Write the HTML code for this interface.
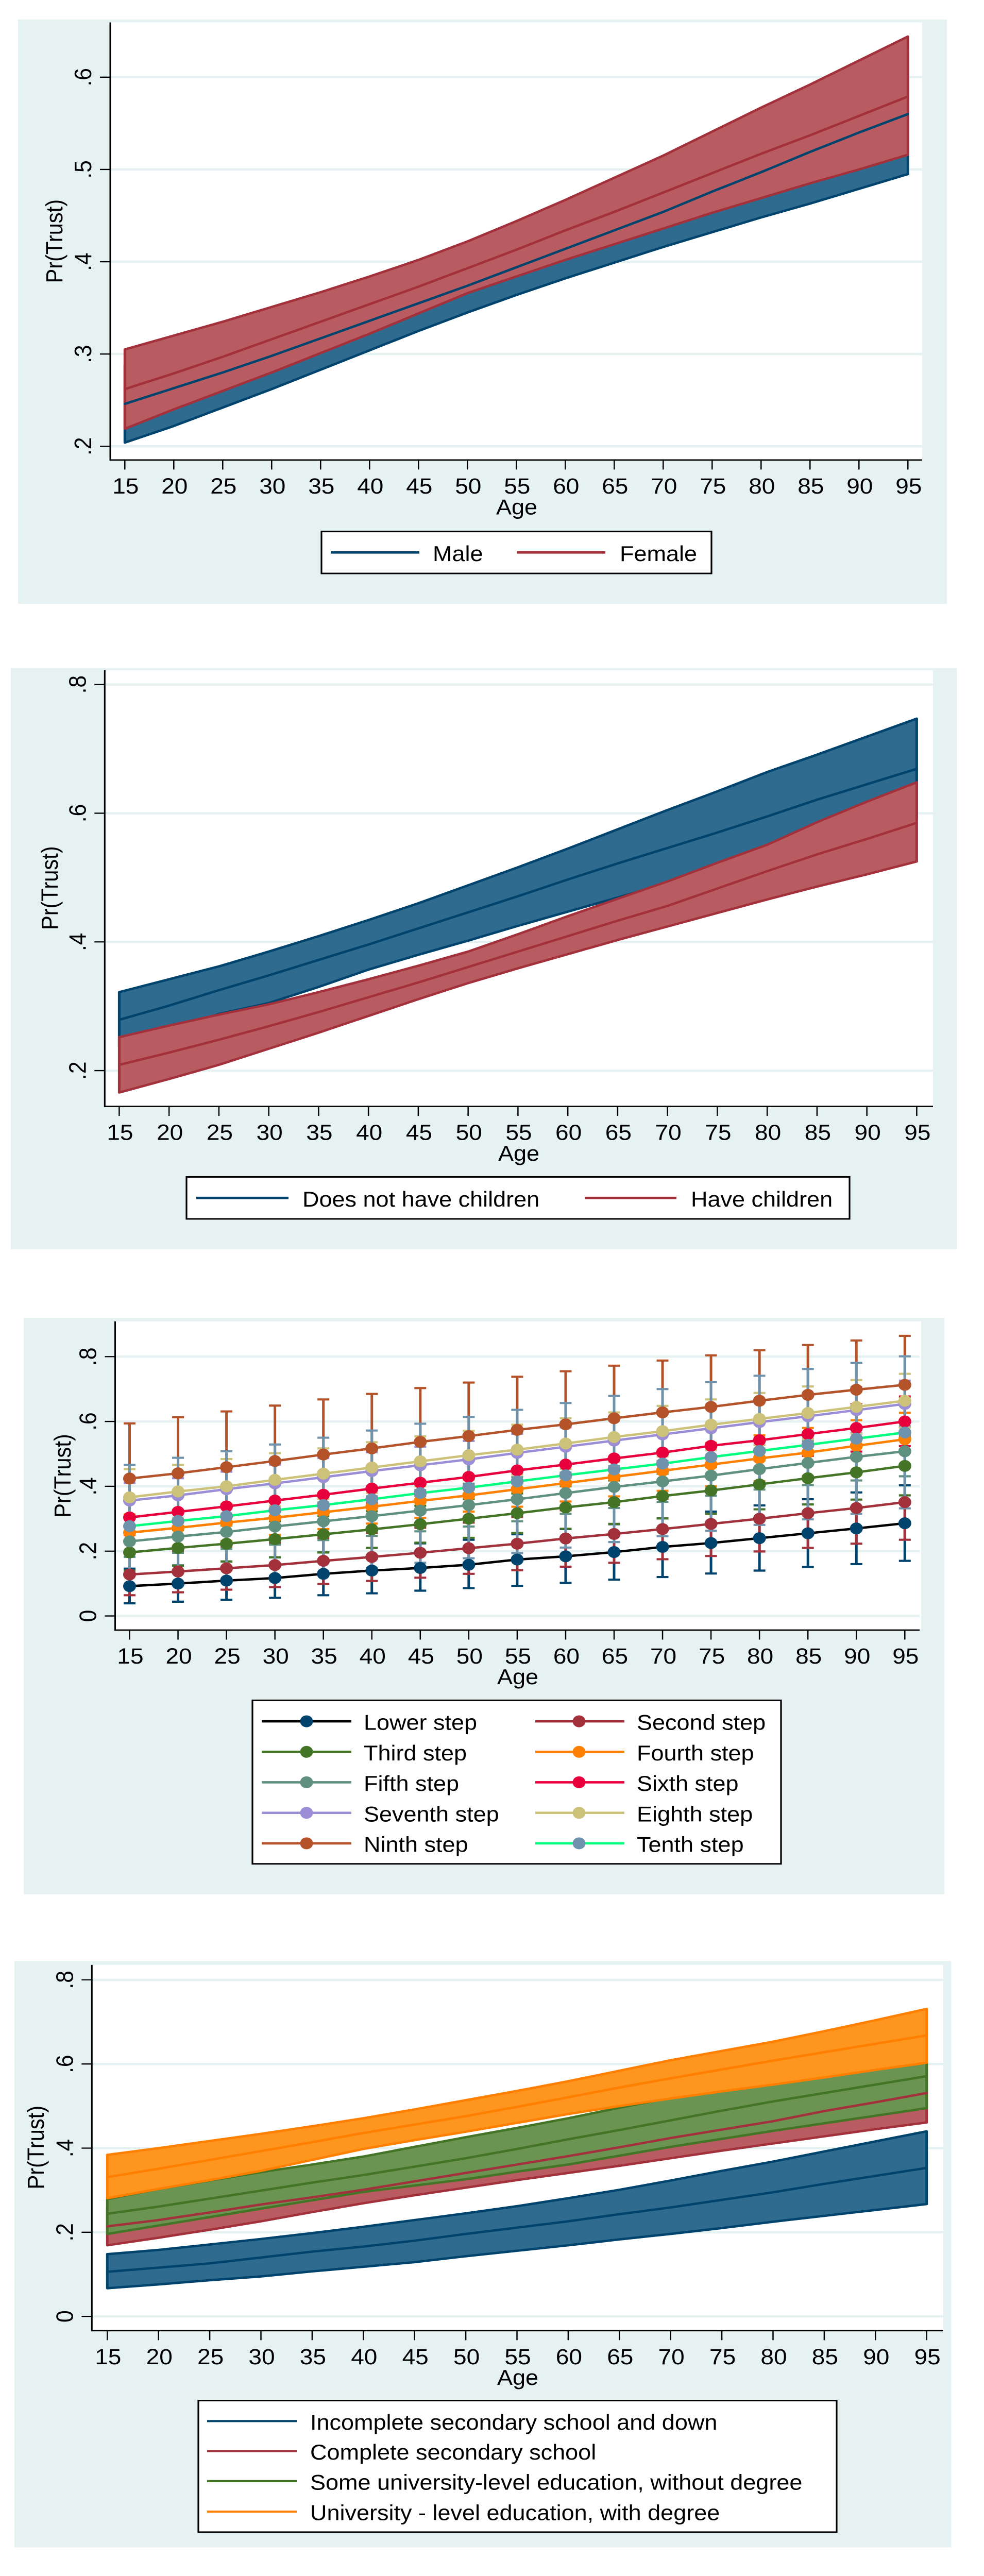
<!DOCTYPE html>
<html lang="en">
<head>
<meta charset="utf-8">
<title>Pr(Trust) by Age</title>
<style>
html,body{margin:0;padding:0;background:#fff;width:1910px;height:5000px;overflow:hidden;}
svg{display:block;overflow:hidden;}
text{font-family:"Liberation Sans",Arial,sans-serif;fill:#000;}
.bg{fill:#e6f2f2;}
.tick{font-size:46px;}
.title{font-size:45px;}
.leg{font-size:45px;}
.box{fill:#fff;stroke:#000;stroke-width:3.2;}
</style>
</head>
<body>
<svg id="figure" xmlns="http://www.w3.org/2000/svg" width="1910" height="5000" viewBox="0 0 1910 5404" preserveAspectRatio="none">
  <rect width="1910" height="5404" fill="#fff"/>

  <!-- Panel 1 -->
  <g>
    <rect class="bg" x="35" y="41" width="1803" height="1226"/>
    <rect fill="#fff" x="214" y="47" width="1576" height="918"/>
    <g id="marks1"></g>
    <text class="title" transform="translate(121,506) rotate(-90)" text-anchor="middle">Pr(Trust)</text>
    <text class="title" x="1003" y="1079" text-anchor="middle">Age</text>
    <g>
      <rect class="box" x="624" y="1115" width="757" height="88"/>
      <g>
        <line x1="642" x2="814" y1="1159" y2="1159" stroke="#00446e" stroke-width="5"/>
        <text class="leg" x="840" y="1177">Male</text>
      </g>
      <g>
        <line x1="1003" x2="1175" y1="1159" y2="1159" stroke="#a3313c" stroke-width="5"/>
        <text class="leg" x="1203" y="1177">Female</text>
      </g>
    </g>
  </g>

  <!-- Panel 2 -->
  <g>
    <rect class="bg" x="21" y="1401" width="1836" height="1220"/>
    <rect fill="#fff" x="203" y="1406" width="1608" height="915"/>
    <g id="marks2"></g>
    <text class="title" transform="translate(112,1863) rotate(-90)" text-anchor="middle">Pr(Trust)</text>
    <text class="title" x="1007" y="2435" text-anchor="middle">Age</text>
    <g>
      <rect class="box" x="362" y="2469" width="1287" height="88"/>
      <g>
        <line x1="381" x2="560" y1="2513" y2="2513" stroke="#00446e" stroke-width="5"/>
        <text class="leg" x="587" y="2531">Does not have children</text>
      </g>
      <g>
        <line x1="1135" x2="1313" y1="2513" y2="2513" stroke="#a3313c" stroke-width="5"/>
        <text class="leg" x="1341" y="2531">Have children</text>
      </g>
    </g>
  </g>

  <!-- Panel 3 -->
  <g>
    <rect class="bg" x="46" y="2765" width="1787" height="1209"/>
    <rect fill="#fff" x="223" y="2772" width="1565" height="647"/>
    <g id="marks3"></g>
    <text class="title" transform="translate(137,3096) rotate(-90)" text-anchor="middle">Pr(Trust)</text>
    <text class="title" x="1005" y="3533" text-anchor="middle">Age</text>
    <g>
      <rect class="box" x="490" y="3567" width="1026" height="343"/>
      <g>
        <line x1="508" x2="682" y1="3611" y2="3611" stroke="#000" stroke-width="5"/>
        <circle cx="595" cy="3611" r="12.5" fill="#00446e"/>
        <text class="leg" x="706" y="3629">Lower step</text>
      </g>
      <g>
        <line x1="508" x2="682" y1="3675" y2="3675" stroke="#447425" stroke-width="5"/>
        <circle cx="595" cy="3675" r="12.5" fill="#447425"/>
        <text class="leg" x="706" y="3693">Third step</text>
      </g>
      <g>
        <line x1="508" x2="682" y1="3739" y2="3739" stroke="#5f9080" stroke-width="5"/>
        <circle cx="595" cy="3739" r="12.5" fill="#5f9080"/>
        <text class="leg" x="706" y="3757">Fifth step</text>
      </g>
      <g>
        <line x1="508" x2="682" y1="3803" y2="3803" stroke="#9c8ed6" stroke-width="5"/>
        <circle cx="595" cy="3803" r="12.5" fill="#9c8ed6"/>
        <text class="leg" x="706" y="3821">Seventh step</text>
      </g>
      <g>
        <line x1="508" x2="682" y1="3867" y2="3867" stroke="#b4522a" stroke-width="5"/>
        <circle cx="595" cy="3867" r="12.5" fill="#b4522a"/>
        <text class="leg" x="706" y="3885">Ninth step</text>
      </g>
      <g>
        <line x1="1039" x2="1212" y1="3611" y2="3611" stroke="#a3313c" stroke-width="5"/>
        <circle cx="1124" cy="3611" r="12.5" fill="#a3313c"/>
        <text class="leg" x="1236" y="3629">Second step</text>
      </g>
      <g>
        <line x1="1039" x2="1212" y1="3675" y2="3675" stroke="#ff7f00" stroke-width="5"/>
        <circle cx="1124" cy="3675" r="12.5" fill="#ff7f00"/>
        <text class="leg" x="1236" y="3693">Fourth step</text>
      </g>
      <g>
        <line x1="1039" x2="1212" y1="3739" y2="3739" stroke="#e8003c" stroke-width="5"/>
        <circle cx="1124" cy="3739" r="12.5" fill="#e8003c"/>
        <text class="leg" x="1236" y="3757">Sixth step</text>
      </g>
      <g>
        <line x1="1039" x2="1212" y1="3803" y2="3803" stroke="#cdc27a" stroke-width="5"/>
        <circle cx="1124" cy="3803" r="12.5" fill="#cdc27a"/>
        <text class="leg" x="1236" y="3821">Eighth step</text>
      </g>
      <g>
        <line x1="1039" x2="1212" y1="3867" y2="3867" stroke="#00ff7f" stroke-width="5"/>
        <circle cx="1124" cy="3867" r="12.5" fill="#7093ad"/>
        <text class="leg" x="1236" y="3885">Tenth step</text>
      </g>
    </g>
  </g>

  <!-- Panel 4 -->
  <g>
    <rect class="bg" x="28" y="4114" width="1818.5" height="1230"/>
    <rect fill="#fff" x="178" y="4122" width="1653" height="767"/>
    <g id="marks4"></g>
    <text class="title" transform="translate(85,4505) rotate(-90)" text-anchor="middle">Pr(Trust)</text>
    <text class="title" x="1005" y="5003" text-anchor="middle">Age</text>
    <g>
      <rect class="box" x="385" y="5036" width="1239" height="276"/>
      <g>
        <line x1="402" x2="576" y1="5079" y2="5079" stroke="#00446e" stroke-width="4.5"/>
        <text class="leg" x="602" y="5097">Incomplete secondary school and down</text>
      </g>
      <g>
        <line x1="402" x2="576" y1="5142" y2="5142" stroke="#a3313c" stroke-width="4.5"/>
        <text class="leg" x="602" y="5160">Complete secondary school</text>
      </g>
      <g>
        <line x1="402" x2="576" y1="5205" y2="5205" stroke="#447425" stroke-width="4.5"/>
        <text class="leg" x="602" y="5223">Some university-level education, without degree</text>
      </g>
      <g>
        <line x1="402" x2="576" y1="5269" y2="5269" stroke="#ff7f00" stroke-width="4.5"/>
        <text class="leg" x="602" y="5287">University - level education, with degree</text>
      </g>
    </g>
  </g>
</svg>

<script>
// ---------- shared categories ----------
const ages = [15,20,25,30,35,40,45,50,55,60,65,70,75,80,85,90,95];

// ---------- panel 1: gender ----------
const p1TickValues = [0.2,0.3,0.4,0.5,0.6];
const p1TickLabels = ['.2','.3','.4','.5','.6'];
const maleLo  = [.204,.222,.242,.262,.283,.304,.325,.345,.364,.382,.399,.416,.432,.448,.463,.479,.495];
const maleMean= [.246,.263,.280,.298,.317,.336,.355,.374,.394,.414,.434,.454,.476,.497,.519,.540,.560];
const maleHi  = [.288,.305,.320,.336,.352,.369,.386,.404,.424,.446,.470,.494,.520,.548,.575,.602,.628];
const femaleLo  = [.219,.240,.260,.280,.301,.322,.344,.366,.384,.402,.419,.436,.453,.469,.485,.500,.516];
const femaleMean= [.262,.279,.297,.316,.335,.354,.373,.393,.413,.434,.454,.475,.496,.517,.537,.558,.579];
const femaleHi  = [.305,.320,.335,.351,.367,.384,.402,.422,.444,.467,.491,.515,.541,.567,.592,.618,.644];

// ---------- panel 2: children ----------
const p2TickValues = [0.2,0.4,0.6,0.8];
const p2TickLabels = ['.2','.4','.6','.8'];
const noKidsLo  = [.237,.262,.288,.305,.330,.357,.380,.402,.425,.447,.469,.491,.512,.532,.552,.572,.592];
const noKidsMean= [.279,.301,.325,.348,.372,.396,.421,.446,.471,.497,.522,.546,.570,.595,.621,.645,.669];
const noKidsHi  = [.322,.342,.362,.385,.409,.434,.460,.488,.516,.545,.575,.605,.634,.664,.691,.719,.747];
const kidsLo  = [.166,.187,.209,.234,.259,.285,.311,.336,.359,.381,.403,.424,.445,.466,.486,.505,.525];
const kidsMean= [.209,.228,.248,.269,.291,.314,.337,.361,.385,.409,.433,.456,.483,.510,.536,.560,.585];
const kidsHi  = [.252,.270,.287,.303,.322,.342,.363,.385,.412,.440,.467,.494,.523,.551,.586,.618,.648];

// ---------- panel 3: income steps ----------
const p3TickValues = [0,0.2,0.4,0.6,0.8];
const p3TickLabels = ['0','.2','.4','.6','.8'];
const lowerMean = [.092,.100,.109,.117,.130,.140,.148,.158,.174,.184,.197,.213,.225,.240,.255,.270,.286];
const lowerLo   = [.039,.044,.050,.056,.064,.070,.078,.086,.093,.102,.112,.120,.131,.140,.151,.160,.170];
const lowerHi   = [.146,.156,.168,.181,.196,.210,.224,.235,.252,.268,.283,.301,.322,.341,.360,.381,.403];
const secondMean= [.128,.137,.147,.157,.170,.182,.195,.209,.223,.239,.253,.268,.284,.300,.317,.333,.351];
const secondLo  = [.064,.073,.081,.089,.099,.108,.118,.130,.141,.152,.164,.175,.185,.199,.210,.223,.235];
const secondHi  = [.192,.201,.214,.225,.240,.256,.272,.288,.305,.326,.343,.361,.383,.401,.424,.443,.467];
const thirdMean = [.196,.210,.223,.237,.252,.267,.283,.300,.317,.335,.351,.370,.387,.406,.425,.443,.463];
const thirdLo   = [.140,.155,.168,.181,.196,.210,.226,.241,.256,.269,.284,.301,.315,.329,.344,.359,.372];
const thirdHi   = [.252,.265,.279,.292,.308,.323,.340,.360,.378,.400,.418,.439,.459,.483,.506,.527,.554];
const fourthMean= [.257,.272,.288,.303,.320,.337,.355,.372,.391,.410,.429,.448,.467,.486,.504,.525,.545];
const fourthLo  = [.200,.216,.231,.250,.268,.285,.303,.322,.337,.353,.369,.386,.400,.416,.432,.448,.465];
const fourthHi  = [.313,.327,.345,.356,.371,.389,.407,.422,.445,.467,.489,.510,.534,.557,.580,.604,.627];
const fifthMean = [.230,.245,.259,.276,.292,.308,.325,.342,.360,.379,.398,.415,.433,.453,.472,.491,.508];
const fifthLo   = [.182,.195,.207,.220,.234,.247,.261,.276,.292,.315,.333,.352,.371,.390,.404,.418,.431];
const fifthHi   = [.278,.295,.311,.331,.350,.369,.388,.408,.428,.442,.462,.478,.495,.516,.540,.564,.585];
const sixthMean = [.304,.321,.338,.356,.374,.393,.411,.429,.449,.467,.486,.504,.525,.542,.561,.580,.600];
const sixthLo   = [.250,.267,.284,.302,.320,.337,.355,.372,.390,.408,.425,.443,.462,.480,.494,.507,.524];
const sixthHi   = [.359,.375,.392,.410,.427,.448,.467,.486,.508,.525,.546,.565,.587,.604,.628,.654,.677];
const seventhMean=[.356,.372,.391,.409,.428,.447,.465,.483,.503,.522,.541,.560,.579,.598,.616,.635,.654];
const seventhLo = [.302,.319,.337,.351,.368,.388,.409,.426,.444,.462,.479,.495,.511,.529,.547,.564,.582];
const seventhHi = [.410,.425,.445,.467,.487,.505,.522,.540,.562,.582,.603,.625,.646,.666,.686,.706,.726];
const eighthMean= [.366,.384,.400,.420,.439,.458,.477,.496,.513,.532,.552,.570,.590,.608,.626,.645,.664];
const eighthLo  = [.279,.301,.316,.339,.361,.380,.400,.420,.436,.454,.476,.492,.512,.527,.545,.562,.581];
const eighthHi  = [.453,.466,.484,.502,.517,.536,.554,.571,.590,.610,.628,.648,.668,.688,.708,.728,.747];
const ninthMean = [.424,.440,.459,.478,.498,.517,.537,.555,.574,.591,.610,.628,.645,.664,.682,.698,.713];
const ninthLo   = [.254,.267,.287,.308,.328,.349,.371,.390,.409,.427,.448,.468,.486,.508,.528,.546,.562];
const ninthHi   = [.594,.613,.631,.649,.668,.685,.703,.720,.738,.755,.772,.788,.804,.820,.836,.850,.864];
const tenthMean = [.277,.293,.308,.326,.342,.360,.379,.396,.415,.434,.452,.470,.490,.509,.528,.547,.566];
const tenthLo   = [.088,.098,.108,.123,.134,.148,.164,.178,.194,.211,.228,.246,.263,.281,.298,.315,.332];
const tenthHi   = [.466,.488,.508,.529,.550,.572,.593,.614,.636,.657,.679,.700,.722,.741,.762,.781,.801];

// ---------- panel 4: education ----------
const p4TickValues = [0,0.2,0.4,0.6,0.8];
const p4TickLabels = ['0','.2','.4','.6','.8'];
const incompleteLo  = [.067,.076,.086,.095,.107,.118,.129,.143,.156,.169,.183,.196,.210,.225,.239,.253,.267];
const incompleteMean= [.106,.116,.126,.140,.154,.166,.180,.196,.211,.226,.243,.259,.277,.295,.315,.334,.353];
const incompleteHi  = [.148,.158,.171,.184,.198,.213,.229,.245,.262,.281,.301,.323,.346,.368,.392,.416,.440];
const completeLo  = [.169,.187,.206,.226,.248,.269,.288,.306,.324,.341,.358,.376,.394,.411,.428,.445,.461];
const completeMean= [.214,.229,.247,.266,.283,.301,.321,.341,.361,.381,.402,.424,.444,.464,.488,.509,.531];
const completeHi  = [.259,.271,.288,.306,.318,.333,.354,.376,.398,.421,.446,.472,.494,.517,.548,.573,.601];
const someUniLo  = [.196,.216,.236,.256,.276,.296,.311,.326,.344,.361,.382,.403,.422,.441,.459,.477,.495];
const someUniMean= [.244,.261,.280,.299,.318,.336,.356,.376,.398,.421,.443,.466,.489,.511,.531,.551,.571];
const someUniHi  = [.279,.303,.323,.343,.361,.380,.403,.426,.448,.471,.496,.520,.539,.556,.572,.588,.603];
const degreeLo  = [.281,.303,.324,.346,.372,.398,.419,.439,.460,.481,.500,.518,.535,.551,.568,.586,.603];
const degreeMean= [.331,.351,.372,.393,.414,.436,.456,.476,.498,.521,.544,.566,.587,.608,.628,.648,.668];
const degreeHi  = [.384,.400,.417,.434,.452,.471,.492,.514,.536,.559,.584,.609,.631,.653,.678,.704,.731];

// ---------- layout and axis functions ----------
const NS = 'http://www.w3.org/2000/svg';
const layout1 = {left:214,right:1790,top:47,bottom:965,x15:242.3,xPerYear:19,y0:1323.5,yPerUnit:1936};
const layout2 = {left:203.3,right:1811,top:1406,bottom:2321,x15:231.4,xPerYear:19.35,y0:2516,yPerUnit:1350};
const layout3 = {left:223.5,right:1785,top:2772,bottom:3419.6,x15:251.5,xPerYear:18.81,y0:3390,yPerUnit:680};
const layout4 = {left:178.3,right:1831,top:4122,bottom:4889.3,x15:208.3,xPerYear:19.88,y0:4859.4,yPerUnit:882.5};

function xPos(p, age){ return p.x15 + (age - 15) * p.xPerYear; }
function yPos(p, v){ return p.y0 - v * p.yPerUnit; }

function make(tag, parent, attrs, txt){
  const el = document.createElementNS(NS, tag);
  for (const k in attrs) el.setAttribute(k, attrs[k]);
  if (txt !== undefined) el.textContent = txt;
  parent.appendChild(el);
  return el;
}

function drawGrid(p, g, tickValues){
  tickValues.forEach(function(v){
    const el = make('line', g, {x1:p.left, x2:p.right, y1:yPos(p,v), y2:yPos(p,v), stroke:'#e6f2f2', 'stroke-width':5});
    
    
  });
}

function drawAxes(p, g, tickValues, tickLabels){
  const yAxis = make('line', g, {x1:p.left, x2:p.left, y1:p.top, y2:p.bottom+1.5, stroke:'#000', 'stroke-width':3});
  
  
  const xAxis = make('line', g, {x1:p.left, x2:p.right, y1:p.bottom, y2:p.bottom, stroke:'#000', 'stroke-width':3});
  
  
  tickValues.forEach(function(v, i){
    const y = yPos(p, v);
    const t = make('line', g, {x1:p.left-20, x2:p.left, y1:y, y2:y, stroke:'#000', 'stroke-width':2.5});
    
    
    const lab = make('text', g, {class:'tick', 'text-anchor':'middle', transform:'translate('+(p.left-37)+','+y+') rotate(-90)'}, tickLabels[i]);
    
    
  });
  ages.forEach(function(a){
    const x = xPos(p, a);
    const t = make('line', g, {x1:x, x2:x, y1:p.bottom, y2:p.bottom+20, stroke:'#000', 'stroke-width':2.5});
    
    
    const lab = make('text', g, {class:'tick', 'text-anchor':'middle', x:x+1.5, y:p.bottom+70.5}, String(a));
    
    
  });
}

function drawBand(p, g, lo, hi, stroke, fill, name){
  const pts = [];
  ages.forEach(function(a, i){ pts.push(xPos(p,a)+','+yPos(p,hi[i])); });
  for (let i = ages.length - 1; i >= 0; i--) pts.push(xPos(p,ages[i])+','+yPos(p,lo[i]));
  const el = make('polygon', g, {points:pts.join(' '), fill:fill, stroke:stroke, 'stroke-width':5, 'stroke-linejoin':'round'});
  
  
}

function drawLine(p, g, vals, stroke, name){
  const pts = ages.map(function(a, i){ return xPos(p,a)+','+yPos(p,vals[i]); }).join(' ');
  const el = make('polyline', g, {points:pts, fill:'none', stroke:stroke, 'stroke-width':5, 'stroke-linejoin':'round', 'stroke-linecap':'round'});
  
  
}

function drawCaps(p, g, lo, hi, color, name){
  ages.forEach(function(a, i){
    const x = xPos(p, a);
    const yl = yPos(p, lo[i]);
    const yh = yPos(p, hi[i]);
    const stem = make('line', g, {x1:x, x2:x, y1:yl, y2:yh, stroke:color, 'stroke-width':5});
    
    
    const c1 = make('line', g, {x1:x-11.5, x2:x+11.5, y1:yl, y2:yl, stroke:color, 'stroke-width':4.5});
    
    
    const c2 = make('line', g, {x1:x-11.5, x2:x+11.5, y1:yh, y2:yh, stroke:color, 'stroke-width':4.5});
    
    
  });
}

function drawConnected(p, g, vals, lineColor, markerColor, name){
  drawLine(p, g, vals, lineColor, name);
  ages.forEach(function(a, i){
    const c = make('circle', g, {cx:xPos(p,a), cy:yPos(p,vals[i]), r:12.5, fill:markerColor});
    
    
  });
}

const NAVY = '#00446e', BLUEFILL = '#2e6b8e', RED = '#a3313c', REDFILL = '#b95c62';
const GREEN = '#447425', GREENFILL = '#6b9452', ORANGE = '#ff7f00', ORANGEFILL = '#fd951f';

// panel 1
(function(){
  const g = document.getElementById('marks1');
  drawGrid(layout1, g, p1TickValues);
  drawBand(layout1, g, maleLo, maleHi, NAVY, BLUEFILL, 'male');
  drawBand(layout1, g, femaleLo, femaleHi, RED, REDFILL, 'female');
  drawLine(layout1, g, maleMean, NAVY, 'male');
  drawLine(layout1, g, femaleMean, RED, 'female');
  drawAxes(layout1, g, p1TickValues, p1TickLabels);
})();

// panel 2
(function(){
  const g = document.getElementById('marks2');
  drawGrid(layout2, g, p2TickValues);
  drawBand(layout2, g, noKidsLo, noKidsHi, NAVY, BLUEFILL, 'no-children');
  drawLine(layout2, g, noKidsMean, NAVY, 'no-children');
  drawBand(layout2, g, kidsLo, kidsHi, RED, REDFILL, 'have-children');
  drawLine(layout2, g, kidsMean, RED, 'have-children');
  drawAxes(layout2, g, p2TickValues, p2TickLabels);
})();

// panel 3
(function(){
  const g = document.getElementById('marks3');
  drawGrid(layout3, g, p3TickValues);
  drawCaps(layout3, g, lowerLo, lowerHi, NAVY, 'lower-step');
  drawCaps(layout3, g, secondLo, secondHi, RED, 'second-step');
  drawCaps(layout3, g, thirdLo, thirdHi, GREEN, 'third-step');
  drawCaps(layout3, g, fourthLo, fourthHi, ORANGE, 'fourth-step');
  drawCaps(layout3, g, fifthLo, fifthHi, '#5f9080', 'fifth-step');
  drawCaps(layout3, g, sixthLo, sixthHi, '#e8003c', 'sixth-step');
  drawCaps(layout3, g, seventhLo, seventhHi, '#9c8ed6', 'seventh-step');
  drawCaps(layout3, g, eighthLo, eighthHi, '#cdc27a', 'eighth-step');
  drawCaps(layout3, g, ninthLo, ninthHi, '#b4522a', 'ninth-step');
  drawCaps(layout3, g, tenthLo, tenthHi, '#7093ad', 'tenth-step');
  drawConnected(layout3, g, lowerMean, '#000', NAVY, 'lower-step');
  drawConnected(layout3, g, secondMean, RED, RED, 'second-step');
  drawConnected(layout3, g, thirdMean, GREEN, GREEN, 'third-step');
  drawConnected(layout3, g, fourthMean, ORANGE, ORANGE, 'fourth-step');
  drawConnected(layout3, g, fifthMean, '#5f9080', '#5f9080', 'fifth-step');
  drawConnected(layout3, g, sixthMean, '#e8003c', '#e8003c', 'sixth-step');
  drawConnected(layout3, g, seventhMean, '#9c8ed6', '#9c8ed6', 'seventh-step');
  drawConnected(layout3, g, eighthMean, '#cdc27a', '#cdc27a', 'eighth-step');
  drawConnected(layout3, g, ninthMean, '#b4522a', '#b4522a', 'ninth-step');
  drawConnected(layout3, g, tenthMean, '#00ff7f', '#7093ad', 'tenth-step');
  drawAxes(layout3, g, p3TickValues, p3TickLabels);
})();

// panel 4
(function(){
  const g = document.getElementById('marks4');
  drawGrid(layout4, g, p4TickValues);
  drawBand(layout4, g, incompleteLo, incompleteHi, NAVY, BLUEFILL, 'incomplete-secondary');
  drawBand(layout4, g, completeLo, completeHi, RED, REDFILL, 'complete-secondary');
  drawBand(layout4, g, someUniLo, someUniHi, GREEN, GREENFILL, 'some-university');
  drawBand(layout4, g, degreeLo, degreeHi, ORANGE, ORANGEFILL, 'university-degree');
  drawLine(layout4, g, incompleteMean, NAVY, 'incomplete-secondary');
  drawLine(layout4, g, completeMean, RED, 'complete-secondary');
  drawLine(layout4, g, someUniMean, GREEN, 'some-university');
  drawLine(layout4, g, degreeMean, ORANGE, 'university-degree');
  drawAxes(layout4, g, p4TickValues, p4TickLabels);
})();
</script>
</body>
</html>
